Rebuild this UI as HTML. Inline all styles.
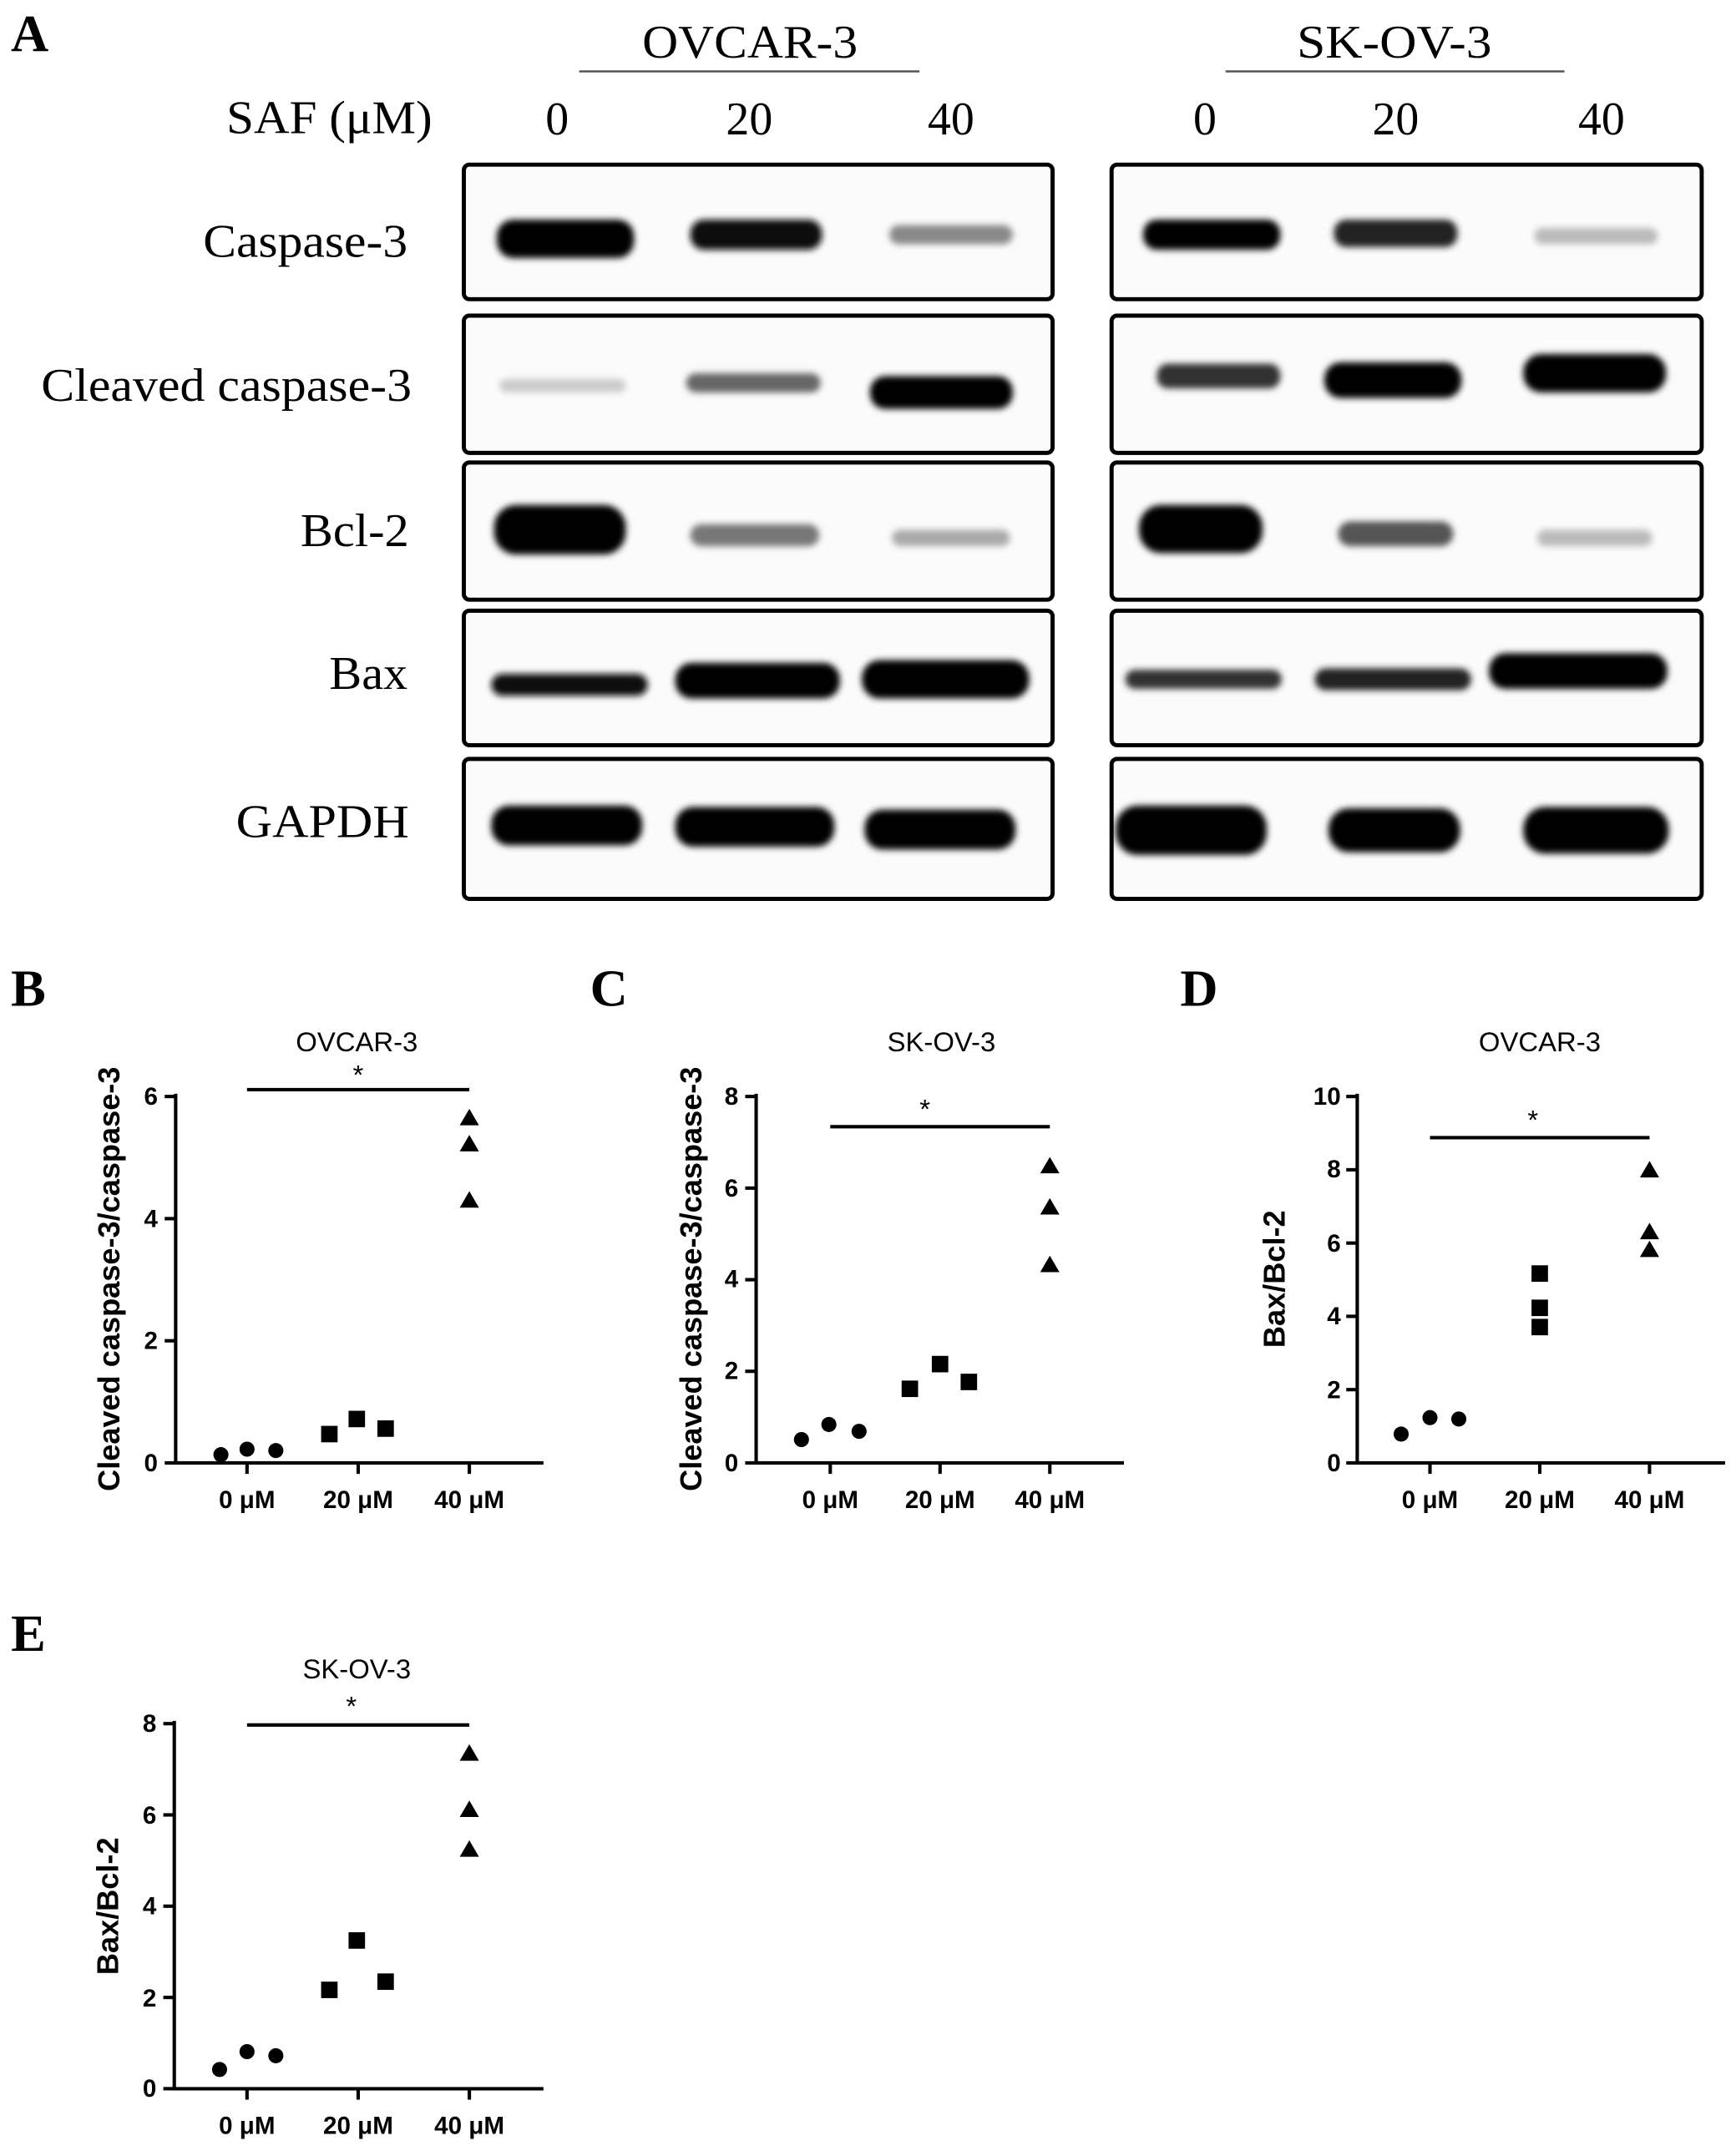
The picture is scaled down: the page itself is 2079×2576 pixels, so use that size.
<!DOCTYPE html>
<html><head><meta charset="utf-8"><style>
html,body{margin:0;padding:0;background:#fff}
svg{display:block}
.ser{font-family:"Liberation Serif",serif}
.san{font-family:"Liberation Sans",sans-serif}
</style></head><body>
<svg width="2079" height="2576" viewBox="0 0 1265 1567.4" preserveAspectRatio="none" xmlns="http://www.w3.org/2000/svg">
<defs>
<filter id="b" x="-30%" y="-100%" width="160%" height="300%"><feGaussianBlur stdDeviation="2.5"/></filter>
</defs>
<rect width="1265" height="1568" fill="#fff"/>
<g class="ser" fill="#000">
<text x="8" y="37" font-size="38" font-weight="bold">A</text>
<text x="468" y="42" font-size="34" textLength="157" lengthAdjust="spacingAndGlyphs">OVCAR-3</text>
<text x="945" y="42" font-size="34" textLength="142" lengthAdjust="spacingAndGlyphs">SK-OV-3</text>
<text x="165" y="97" font-size="34" textLength="150" lengthAdjust="spacingAndGlyphs">SAF (μM)</text>
<text x="406" y="98" font-size="34" text-anchor="middle">0</text>
<text x="546" y="98" font-size="34" text-anchor="middle">20</text>
<text x="693" y="98" font-size="34" text-anchor="middle">40</text>
<text x="878" y="98" font-size="34" text-anchor="middle">0</text>
<text x="1017" y="98" font-size="34" text-anchor="middle">20</text>
<text x="1167" y="98" font-size="34" text-anchor="middle">40</text>
<text x="148" y="187" font-size="34" textLength="149" lengthAdjust="spacingAndGlyphs">Caspase-3</text>
<text x="30" y="292" font-size="34" textLength="270" lengthAdjust="spacingAndGlyphs">Cleaved caspase-3</text>
<text x="219" y="398" font-size="34" textLength="79" lengthAdjust="spacingAndGlyphs">Bcl-2</text>
<text x="240" y="502" font-size="34" textLength="57" lengthAdjust="spacingAndGlyphs">Bax</text>
<text x="172" y="610" font-size="34" textLength="126" lengthAdjust="spacingAndGlyphs">GAPDH</text>
<text x="8" y="733" font-size="38" font-weight="bold">B</text>
<text x="430" y="733" font-size="38" font-weight="bold">C</text>
<text x="860" y="733" font-size="38" font-weight="bold">D</text>
<text x="8" y="1203" font-size="38" font-weight="bold">E</text>
</g>
<line x1="422" y1="52" x2="670" y2="52" stroke="#555" stroke-width="1.5"/>
<line x1="893" y1="52" x2="1140" y2="52" stroke="#555" stroke-width="1.5"/>
<g fill="#fbfbfb" stroke="#000" stroke-width="3">
<rect x="338" y="120" width="429" height="98" rx="4"/>
<rect x="338" y="230" width="429" height="100" rx="4"/>
<rect x="338" y="337" width="429" height="100" rx="4"/>
<rect x="338" y="445" width="429" height="98" rx="4"/>
<rect x="338" y="553" width="429" height="102" rx="4"/>
<rect x="810" y="120" width="430" height="98" rx="4"/>
<rect x="810" y="230" width="430" height="100" rx="4"/>
<rect x="810" y="337" width="430" height="100" rx="4"/>
<rect x="810" y="445" width="430" height="98" rx="4"/>
<rect x="810" y="553" width="430" height="102" rx="4"/>
</g>
<g filter="url(#b)">
<rect x="362" y="160" width="100" height="28" rx="12" fill="#000"/>
<rect x="503" y="160" width="96" height="22" rx="10" fill="#111"/>
<rect x="648" y="164" width="90" height="14" rx="7" fill="#888"/>
<rect x="833" y="160" width="100" height="22" rx="10" fill="#050505"/>
<rect x="972" y="160" width="90" height="20" rx="9" fill="#222"/>
<rect x="1118" y="166" width="90" height="12" rx="6" fill="#bbb"/>
<rect x="364" y="276" width="92" height="10" rx="5" fill="#ccc"/>
<rect x="500" y="272" width="98" height="14" rx="7" fill="#666"/>
<rect x="634" y="274" width="104" height="24" rx="11" fill="#000"/>
<rect x="843" y="265" width="90" height="18" rx="8" fill="#333"/>
<rect x="965" y="264" width="100" height="26" rx="12" fill="#000"/>
<rect x="1110" y="258" width="104" height="28" rx="13" fill="#000"/>
<rect x="360" y="368" width="96" height="36" rx="16" fill="#000"/>
<rect x="503" y="382" width="94" height="16" rx="8" fill="#777"/>
<rect x="650" y="386" width="86" height="12" rx="6" fill="#aaa"/>
<rect x="830" y="368" width="90" height="35" rx="16" fill="#000"/>
<rect x="975" y="380" width="84" height="18" rx="9" fill="#555"/>
<rect x="1120" y="386" width="84" height="12" rx="6" fill="#bbb"/>
<rect x="358" y="491" width="114" height="16" rx="8" fill="#111"/>
<rect x="492" y="483" width="120" height="26" rx="12" fill="#000"/>
<rect x="628" y="481" width="122" height="28" rx="13" fill="#000"/>
<rect x="820" y="488" width="114" height="14" rx="7" fill="#333"/>
<rect x="958" y="487" width="114" height="16" rx="8" fill="#222"/>
<rect x="1085" y="476" width="130" height="26" rx="12" fill="#000"/>
<rect x="358" y="587" width="110" height="29" rx="13" fill="#000"/>
<rect x="492" y="588" width="116" height="29" rx="13" fill="#000"/>
<rect x="630" y="590" width="110" height="29" rx="13" fill="#000"/>
<rect x="813" y="587" width="110" height="36" rx="16" fill="#000"/>
<rect x="968" y="589" width="96" height="32" rx="15" fill="#000"/>
<rect x="1110" y="588" width="106" height="34" rx="16" fill="#000"/>
</g>
<g class="san" fill="#000">
<!-- B -->
<text x="260" y="766" font-size="20" text-anchor="middle">OVCAR-3</text>
<g stroke="#000" stroke-width="2.5" fill="none">
<line x1="128" y1="797" x2="128" y2="1067"/><line x1="127" y1="1066" x2="396" y2="1066"/>
<line x1="120" y1="799" x2="128" y2="799"/><line x1="120" y1="888" x2="128" y2="888"/><line x1="120" y1="977" x2="128" y2="977"/><line x1="120" y1="1066" x2="128" y2="1066"/>
<line x1="180" y1="1066" x2="180" y2="1074"/><line x1="261" y1="1066" x2="261" y2="1074"/><line x1="342" y1="1066" x2="342" y2="1074"/>
<line x1="180" y1="794" x2="342" y2="794"/>
</g>
<text x="261" y="790" font-size="20" text-anchor="middle">*</text>
<g font-size="18" font-weight="bold" text-anchor="end"><text x="115" y="805">6</text><text x="115" y="894">4</text><text x="115" y="983">2</text><text x="115" y="1072">0</text></g>
<g font-size="18" font-weight="bold" text-anchor="middle"><text x="180" y="1099">0 μM</text><text x="261" y="1099">20 μM</text><text x="342" y="1099">40 μM</text></g>
<text transform="translate(87,932) rotate(-90)" font-size="22" font-weight="bold" text-anchor="middle">Cleaved caspase-3/caspase-3</text>
<circle cx="161" cy="1060" r="5.5"/><circle cx="180" cy="1056" r="5.5"/><circle cx="201" cy="1057" r="5.5"/>
<rect x="234" y="1039" width="12" height="12"/><rect x="254" y="1028" width="12" height="12"/><rect x="275" y="1035" width="12" height="12"/>
<path d="M342 808l7 12h-14z M342 827l7 12h-14z M342 868l7 12h-14z"/>
<!-- C -->
<text x="686" y="766" font-size="20" text-anchor="middle">SK-OV-3</text>
<g stroke="#000" stroke-width="2.5" fill="none">
<line x1="551" y1="797" x2="551" y2="1067"/><line x1="550" y1="1066" x2="819" y2="1066"/>
<line x1="543" y1="799" x2="551" y2="799"/><line x1="543" y1="865.75" x2="551" y2="865.75"/><line x1="543" y1="932.5" x2="551" y2="932.5"/><line x1="543" y1="999.25" x2="551" y2="999.25"/><line x1="543" y1="1066" x2="551" y2="1066"/>
<line x1="605" y1="1066" x2="605" y2="1074"/><line x1="685" y1="1066" x2="685" y2="1074"/><line x1="765" y1="1066" x2="765" y2="1074"/>
<line x1="605" y1="821" x2="765" y2="821"/>
</g>
<text x="674" y="815" font-size="20" text-anchor="middle">*</text>
<g font-size="18" font-weight="bold" text-anchor="end"><text x="538" y="805">8</text><text x="538" y="872">6</text><text x="538" y="938">4</text><text x="538" y="1005">2</text><text x="538" y="1072">0</text></g>
<g font-size="18" font-weight="bold" text-anchor="middle"><text x="605" y="1099">0 μM</text><text x="685" y="1099">20 μM</text><text x="765" y="1099">40 μM</text></g>
<text transform="translate(511,932) rotate(-90)" font-size="22" font-weight="bold" text-anchor="middle">Cleaved caspase-3/caspase-3</text>
<circle cx="584" cy="1049" r="5.5"/><circle cx="604" cy="1038" r="5.5"/><circle cx="626" cy="1043" r="5.5"/>
<rect x="657" y="1006" width="12" height="12"/><rect x="679" y="988" width="12" height="12"/><rect x="700" y="1001" width="12" height="12"/>
<path d="M765 843l7 12h-14z M765 873l7 12h-14z M765 915l7 12h-14z"/>
<!-- D -->
<text x="1122" y="766" font-size="20" text-anchor="middle">OVCAR-3</text>
<g stroke="#000" stroke-width="2.5" fill="none">
<line x1="989" y1="797" x2="989" y2="1067"/><line x1="988" y1="1066" x2="1257" y2="1066"/>
<line x1="981" y1="799" x2="989" y2="799"/><line x1="981" y1="852.4" x2="989" y2="852.4"/><line x1="981" y1="905.8" x2="989" y2="905.8"/><line x1="981" y1="959.2" x2="989" y2="959.2"/><line x1="981" y1="1012.6" x2="989" y2="1012.6"/><line x1="981" y1="1066" x2="989" y2="1066"/>
<line x1="1042" y1="1066" x2="1042" y2="1074"/><line x1="1122" y1="1066" x2="1122" y2="1074"/><line x1="1202" y1="1066" x2="1202" y2="1074"/>
<line x1="1042" y1="829" x2="1202" y2="829"/>
</g>
<text x="1117" y="823" font-size="20" text-anchor="middle">*</text>
<g font-size="18" font-weight="bold" text-anchor="end"><text x="977" y="805">10</text><text x="977" y="858">8</text><text x="977" y="912">6</text><text x="977" y="965">4</text><text x="977" y="1019">2</text><text x="977" y="1072">0</text></g>
<g font-size="18" font-weight="bold" text-anchor="middle"><text x="1042" y="1099">0 μM</text><text x="1122" y="1099">20 μM</text><text x="1202" y="1099">40 μM</text></g>
<text transform="translate(936,932) rotate(-90)" font-size="22" font-weight="bold" text-anchor="middle">Bax/Bcl-2</text>
<circle cx="1021" cy="1045" r="5.5"/><circle cx="1042" cy="1033" r="5.5"/><circle cx="1063" cy="1034" r="5.5"/>
<rect x="1116" y="922" width="12" height="12"/><rect x="1116" y="947" width="12" height="12"/><rect x="1116" y="961" width="12" height="12"/>
<path d="M1202 846l7 12h-14z M1202 891l7 12h-14z M1202 904l7 12h-14z"/>
<!-- E -->
<text x="260" y="1223" font-size="20" text-anchor="middle">SK-OV-3</text>
<g stroke="#000" stroke-width="2.5" fill="none">
<line x1="127" y1="1254" x2="127" y2="1523"/><line x1="126" y1="1522" x2="396" y2="1522"/>
<line x1="119" y1="1256" x2="127" y2="1256"/><line x1="119" y1="1322.5" x2="127" y2="1322.5"/><line x1="119" y1="1389" x2="127" y2="1389"/><line x1="119" y1="1455.5" x2="127" y2="1455.5"/><line x1="119" y1="1522" x2="127" y2="1522"/>
<line x1="180" y1="1522" x2="180" y2="1530"/><line x1="261" y1="1522" x2="261" y2="1530"/><line x1="342" y1="1522" x2="342" y2="1530"/>
<line x1="180" y1="1257" x2="342" y2="1257"/>
</g>
<text x="256" y="1250" font-size="20" text-anchor="middle">*</text>
<g font-size="18" font-weight="bold" text-anchor="end"><text x="114" y="1262">8</text><text x="114" y="1329">6</text><text x="114" y="1395">4</text><text x="114" y="1462">2</text><text x="114" y="1528">0</text></g>
<g font-size="18" font-weight="bold" text-anchor="middle"><text x="180" y="1555">0 μM</text><text x="261" y="1555">20 μM</text><text x="342" y="1555">40 μM</text></g>
<text transform="translate(86,1389) rotate(-90)" font-size="22" font-weight="bold" text-anchor="middle">Bax/Bcl-2</text>
<circle cx="160" cy="1508" r="5.5"/><circle cx="180" cy="1495" r="5.5"/><circle cx="201" cy="1498" r="5.5"/>
<rect x="234" y="1444" width="12" height="12"/><rect x="254" y="1408" width="12" height="12"/><rect x="275" y="1438" width="12" height="12"/>
<path d="M342 1271l7 12h-14z M342 1312l7 12h-14z M342 1341l7 12h-14z"/>
</g>
</svg>
</body></html>
